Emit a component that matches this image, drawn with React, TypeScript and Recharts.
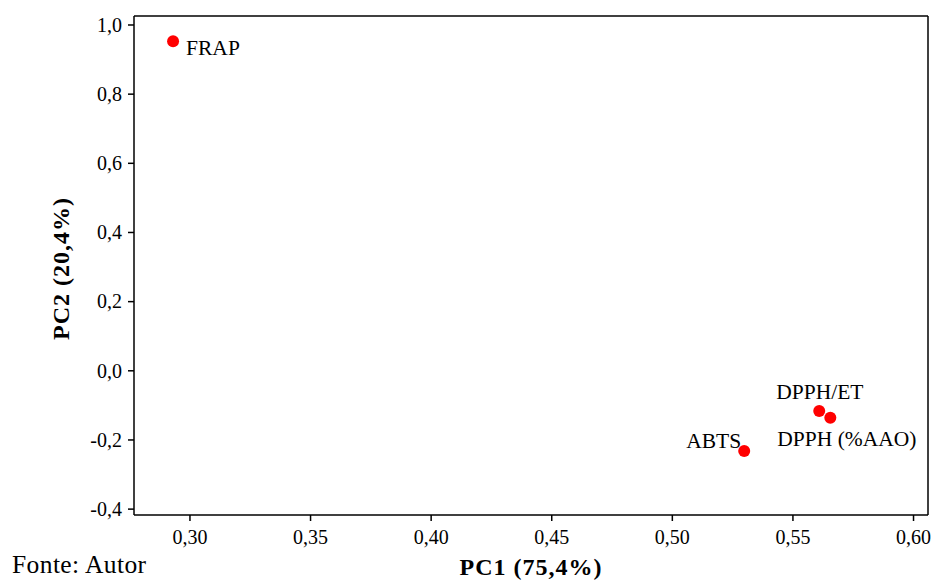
import React from "react";
import {
  ScatterChart,
  Scatter,
  XAxis,
  YAxis,
  ReferenceLine,
  LabelList,
  Label,
} from "recharts";

const names = ["FRAP", "ABTS", "DPPH/ET", "DPPH (%AAO)"];
const pc1 = [0.293, 0.5298, 0.5609, 0.5655];
const pc2 = [0.953, -0.232, -0.1165, -0.136];

const xTicks = [0.3, 0.35, 0.4, 0.45, 0.5, 0.55, 0.6];
const yTicks = [-0.4, -0.2, 0.0, 0.2, 0.4, 0.6, 0.8, 1.0];
const xDomain = [0.2768, 0.606];
const yDomain = [-0.417, 1.026];

const xTitle = "PC1 (75,4%)";
const yTitle = "PC2 (20,4%)";
const sourceText = "Fonte: Autor";

const data = names.map((n, i) => ({ name: n, x: pc1[i], y: pc2[i] }));

// label placement relative to point centre (style only)
const labelPlacement: Record<string, { dx: number; dy: number; anchor: string }> = {
  FRAP: { dx: 13, dy: 6, anchor: "start" },
  ABTS: { dx: -3, dy: -10, anchor: "end" },
  "DPPH/ET": { dx: -43, dy: -19, anchor: "start" },
  "DPPH (%AAO)": { dx: -53, dy: 21, anchor: "start" },
};

const FONT = "Liberation Serif";

const fmt = (digits: number) => (v: number) =>
  v.toFixed(digits).replace(".", ",").replace(/^-0,0+$/, "0,0");

const fmtX = fmt(2);
const fmtY = fmt(1);

const XTick = (props: any) => {
  const { x, y, payload } = props;
  return (
    <text x={x} y={y} dy="0.71em" textAnchor="middle" fontFamily={FONT} fontSize={20} fill="#000">
      {fmtX(payload.value)}
    </text>
  );
};

const YTick = (props: any) => {
  const { x, y, payload } = props;
  return (
    <text x={x} y={y} dy="0.34em" textAnchor="end" fontFamily={FONT} fontSize={20} fill="#000">
      {fmtY(payload.value)}
    </text>
  );
};

const XTitle = (props: any) => {
  const vb = props.viewBox || {};
  return (
    <text
      x={vb.x + vb.width / 2}
      y={vb.y + vb.height - 5}
      textAnchor="middle"
      fontFamily={FONT}
      fontWeight="bold"
      fontSize={24}
      letterSpacing={1}
      fill="#000"
    >
      {xTitle}
    </text>
  );
};

const YTitle = (props: any) => {
  const vb = props.viewBox || {};
  const cx = 69;
  const cy = vb.y + vb.height / 2 + 3;
  return (
    <text
      x={cx}
      y={cy}
      transform={`rotate(-90, ${cx}, ${cy})`}
      textAnchor="middle"
      fontFamily={FONT}
      fontWeight="bold"
      fontSize={24}
      letterSpacing={1}
      fill="#000"
    >
      {yTitle}
    </text>
  );
};

const PointLabel = (props: any) => {
  const { x, y, width, height, value } = props;
  const cx = x + (width || 0) / 2;
  const cy = y + (height || 0) / 2;
  const p = labelPlacement[value] || { dx: 10, dy: 0, anchor: "start" };
  return (
    <text
      x={cx + p.dx}
      y={cy + p.dy}
      dy="0.34em"
      textAnchor={p.anchor as any}
      fontFamily={FONT}
      fontSize={21.5}
      fill="#000"
    >
      {value}
    </text>
  );
};

const Dot = (props: any) => {
  const { cx, cy } = props;
  return <circle cx={cx} cy={cy} r={6} fill="#ff0000" stroke="none" />;
};

export default function App() {
  return (
    <div style={{ position: "absolute", left: 0, top: 0, width: 933, height: 580, background: "#fff" }}>
      <ScatterChart
        width={933}
        height={580}
        margin={{ top: 16, right: 5, left: 0, bottom: 0 }}
      >
        <XAxis
          type="number"
          dataKey="x"
          domain={xDomain}
          ticks={xTicks}
          allowDataOverflow
          height={65}
          stroke="#000"
          strokeWidth={1.5}
          tickSize={6}
          tickMargin={9}
          tick={<XTick />}
          tickLine={{ stroke: "#000", strokeWidth: 1.5 }}
        >
          <Label content={<XTitle />} />
        </XAxis>
        <YAxis
          type="number"
          dataKey="y"
          domain={yDomain}
          ticks={yTicks}
          allowDataOverflow
          width={134}
          stroke="#000"
          strokeWidth={1.5}
          tickSize={6}
          tickMargin={6}
          tick={<YTick />}
          tickLine={{ stroke: "#000", strokeWidth: 1.5 }}
        >
          <Label content={<YTitle />} />
        </YAxis>
        <ReferenceLine y={yDomain[1]} stroke="#000" strokeWidth={1.5} />
        <ReferenceLine x={xDomain[1]} stroke="#000" strokeWidth={1.5} />
        <Scatter data={data} isAnimationActive={false} shape={<Dot />}>
          <LabelList dataKey="name" content={<PointLabel />} />
        </Scatter>
      </ScatterChart>
      <div
        style={{
          position: "absolute",
          left: 12,
          top: 555,
          fontFamily: FONT,
          fontSize: 25.5,
          letterSpacing: 0.4,
          lineHeight: "20px",
          color: "#000",
          whiteSpace: "nowrap",
        }}
      >
        {sourceText}
      </div>
    </div>
  );
}
